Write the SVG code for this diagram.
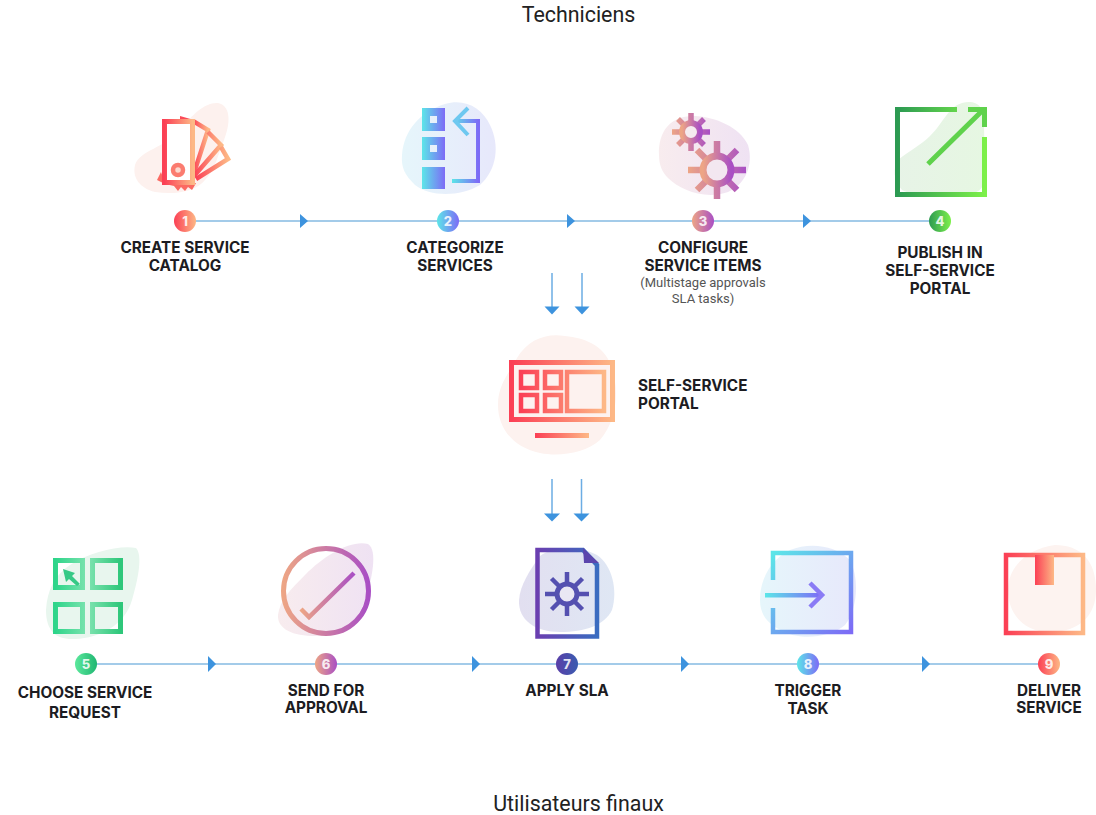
<svg xmlns="http://www.w3.org/2000/svg" width="1096" height="815" viewBox="0 0 1096 815">
<style>
.t{font-family:"Inter","Liberation Sans",sans-serif;font-weight:700;font-size:15.300px;fill:#1c1c22;text-anchor:middle}
.s{font-family:"Roboto","Liberation Sans",sans-serif;font-size:13px;fill:#555;text-anchor:middle}
.h{font-family:"Roboto","Liberation Sans",sans-serif;font-size:21.400px;fill:#222;text-anchor:middle}
.n{font-family:"Inter","Liberation Sans",sans-serif;font-weight:800;font-size:13px;fill:#fff;fill-opacity:.85;text-anchor:middle}
.l{stroke:#a3cbe9;stroke-width:2;fill:none}
.d{stroke:#6cade4;stroke-width:1.500;fill:none}
.a{fill:#3d93de}
</style>
<defs>
<linearGradient id="gR"><stop offset="0" stop-color="#fb4055"/><stop offset="1" stop-color="#fdb886"/></linearGradient>
<linearGradient id="gB"><stop offset="0" stop-color="#5ce6e8"/><stop offset="1" stop-color="#7d6bf6"/></linearGradient>
<linearGradient id="gB2" x2="1" y2="1"><stop offset="0" stop-color="#5ce6e8"/><stop offset="1" stop-color="#7d6bf6"/></linearGradient>
<linearGradient id="gP"><stop offset="0" stop-color="#eda585"/><stop offset="1" stop-color="#a94fc4"/></linearGradient>
<linearGradient id="gG"><stop offset="0" stop-color="#2c9a52"/><stop offset="1" stop-color="#7df04a"/></linearGradient>
<linearGradient id="gM"><stop offset="0" stop-color="#2ed58a"/><stop offset=".5" stop-color="#7ee3b0"/><stop offset="1" stop-color="#2ec77a"/></linearGradient>
<linearGradient id="gI"><stop offset="0" stop-color="#6a3fb0"/><stop offset="1" stop-color="#3a6cc0"/></linearGradient>
<linearGradient id="gN5"><stop offset="0" stop-color="#5ce89c"/><stop offset="1" stop-color="#1fb672"/></linearGradient>
<linearGradient id="gN7"><stop offset="0" stop-color="#5a3fa8"/><stop offset="1" stop-color="#3a5cb0"/></linearGradient>
<linearGradient id="bB"><stop offset="0" stop-color="#e6f6fb"/><stop offset="1" stop-color="#e7e8fb"/></linearGradient>
<linearGradient id="bP"><stop offset="0" stop-color="#f8ecee"/><stop offset="1" stop-color="#efe2f3"/></linearGradient>
<linearGradient id="bG"><stop offset="0" stop-color="#e7f3e7"/><stop offset="1" stop-color="#e6f7e2"/></linearGradient>
<linearGradient id="bI"><stop offset="0" stop-color="#e2dff0"/><stop offset="1" stop-color="#dfe7f4"/></linearGradient>
</defs>
<rect width="1096" height="815" fill="#fff"/>
<text class="h" x="578.500" y="22">Techniciens</text>
<text class="h" x="578.500" y="811">Utilisateurs finaux</text>

<g id="connectors">
<path class="l" d="M185 221H940M86 664H1049"/>
<path class="a" d="M300 214l8 7-8 7zM567 214l8 7-8 7zM803 214l8 7-8 7zM208 656l8 8-8 8zM472 656l8 8-8 8zM681 656l8 8-8 8zM922 656l8 8-8 8z"/>
<path class="d" d="M552 273V307M582 273V307M552 479V514M581.500 479V514"/>
<path class="a" d="M544.500 306.500h15l-7.500 8zM574.500 306.500h15l-7.500 8zM544 513.500h16l-8 8zM573.500 513.500h16l-8 8z"/>
</g>

<g id="node-1">
<path fill="#fdf1ee" d="M135 165C140 150 165 148 180 130C192 115 205 102 218 103C232 106 230 125 224 140C218 155 215 170 205 180C195 192 175 195 155 192C140 188 132 178 135 165Z"/>
<path fill="#fb4a58" d="M180 116L194 120L180 121Z"/>
<path fill="none" stroke="url(#gR)" stroke-width="4.500" d="M193 121L208 130L194 173"/>
<path fill="none" stroke="url(#gR)" stroke-width="4.500" d="M208 132L221 145L194 176"/>
<path fill="none" stroke="url(#gR)" stroke-width="4.500" d="M221 147L228 159L196 179"/>
<path fill="#fb6a62" d="M161 172L157 180L165 184L174 186L178 191L181 187L185 191L188 187L192 190L195 185L196 183H165Z"/>
<rect x="164.500" y="121.500" width="28" height="61" fill="#fff" stroke="url(#gR)" stroke-width="5"/>
<circle cx="178" cy="170" r="5" fill="#fdd9cf" stroke="#fb7c70" stroke-width="4.500"/>
<circle cx="185" cy="221" r="11" fill="url(#gR)"/>
<text class="n" x="185" y="226">1</text>
<text class="t" x="185" y="253">CREATE SERVICE</text>
<text class="t" x="185" y="271">CATALOG</text>
</g>

<g id="node-2">
<path fill="url(#bB)" d="M402 155C404 130 420 112 445 104C465 98 482 108 490 125C500 145 497 170 480 185C460 197 430 197 415 185C405 175 401 168 402 155Z"/>
<path fill="url(#gB)" fill-rule="evenodd" d="M422 108h23v23h-23zM430 116v7h7v-7zM422 137h23v23h-23zM430 145v7h7v-7zM422 167h23v22h-23z"/>
<path fill="none" stroke="url(#gB)" stroke-width="4" d="M456 121H478V181H452"/>
<path fill="none" stroke="#6ec8f0" stroke-width="4" d="M468 108L455 121L468 135"/>
<circle cx="448" cy="221" r="11" fill="url(#gB)"/>
<text class="n" x="448" y="226">2</text>
<text class="t" x="455" y="253">CATEGORIZE</text>
<text class="t" x="455" y="271">SERVICES</text>
</g>

<g id="node-3">
<path fill="url(#bP)" d="M659 155C658 130 672 115 695 116C715 117 740 127 748 145C754 165 745 185 728 192C705 200 680 190 668 178C662 172 659 165 659 155Z"/>
<path fill="none" stroke="url(#gP)" stroke-width="5.500" d="M672 132H710M691 113V151M678 119L704 145M704 119L678 145"/>
<circle cx="691" cy="132" r="9" fill="#f5ebef" stroke="url(#gP)" stroke-width="6"/>
<path fill="none" stroke="url(#gP)" stroke-width="6.500" d="M688 170H746M717 141V199M697 150L737 190M737 150L697 190"/>
<circle cx="717" cy="170" r="14" fill="#f3e7f0" stroke="url(#gP)" stroke-width="7"/>
<circle cx="703" cy="221" r="11" fill="url(#gP)"/>
<text class="n" x="703" y="226">3</text>
<text class="t" x="703" y="253">CONFIGURE</text>
<text class="t" x="703" y="271">SERVICE ITEMS</text>
<text class="s" x="703" y="287">(Multistage approvals</text>
<text class="s" x="703" y="303">SLA tasks)</text>
</g>

<g id="node-4">
<path fill="url(#bG)" d="M898 160C910 150 920 146 930 136C942 125 948 107 962 103C975 100 985 104 984 125L985 180C982 192 975 195 960 193C935 195 915 197 902 190C893 180 893 168 898 160Z"/>
<path fill="none" stroke="url(#gG)" stroke-width="5" d="M957 109.500H897.500V194.500H984.500V137"/>
<path fill="none" stroke="#5fd24c" stroke-width="5" d="M928 164L983 110M968 109.500H984.500V127"/>
<circle cx="940" cy="221" r="11" fill="url(#gG)"/>
<text class="n" x="940" y="226">4</text>
<text class="t" x="940" y="258">PUBLISH IN</text>
<text class="t" x="940" y="276">SELF-SERVICE</text>
<text class="t" x="940" y="294">PORTAL</text>
</g>

<g id="portal">
<path fill="#fdf2ef" d="M498 405C498 385 508 375 517 358C528 340 545 333 565 336C585 338 603 345 611 365C620 390 617 420 600 440C585 453 560 457 540 453C515 448 498 430 498 405Z"/>
<rect x="511.500" y="362.500" width="101" height="57" fill="none" stroke="url(#gR)" stroke-width="5"/>
<path fill="none" stroke="url(#gR)" stroke-width="4.500" d="M521 372h16v16h-16zM545 372h16v16h-16zM521 395h16v16h-16zM545 395h16v16h-16zM567 372h37v39h-37z"/>
<rect x="535" y="433" width="54" height="5" fill="url(#gR)"/>
<text class="t" style="text-anchor:start" x="638" y="391">SELF-SERVICE</text>
<text class="t" style="text-anchor:start" x="638" y="409">PORTAL</text>
</g>

<g id="node-5">
<path fill="#e8f6ee" d="M46 610C47 590 55 575 70 565C90 552 120 545 136 548C143 555 138 580 132 600C125 625 100 638 75 639C55 640 46 630 46 610Z"/>
<path fill="none" stroke="url(#gM)" stroke-width="5" d="M55.500 560.500h27v27h-27zM92.500 560.500h28v27h-28zM55.500 604.500h27v27h-27zM92.500 604.500h28v27h-28z"/>
<path fill="#36c986" d="M63 569L75 573L72 576L80 584L77 586L69 579L66 582Z"/>
<circle cx="86" cy="664" r="11" fill="url(#gN5)"/>
<text class="n" x="86" y="669">5</text>
<text class="t" x="85" y="698">CHOOSE SERVICE</text>
<text class="t" x="85" y="718">REQUEST</text>
</g>

<g id="node-6">
<path fill="url(#bP)" d="M278 615C280 600 290 590 305 575C325 555 350 540 368 544C378 550 372 580 365 600C358 620 345 635 320 636C295 637 277 630 278 615Z"/>
<circle cx="326" cy="591" r="42.500" fill="none" stroke="url(#gP)" stroke-width="5"/>
<path fill="none" stroke="url(#gP)" stroke-width="4.500" d="M301 609L309 617L354 573"/>
<circle cx="326" cy="664" r="11" fill="url(#gP)"/>
<text class="n" x="326" y="669">6</text>
<text class="t" x="326" y="696">SEND FOR</text>
<text class="t" x="326" y="713">APPROVAL</text>
</g>

<g id="node-7">
<path fill="url(#bI)" d="M519 600C520 585 530 570 540 556C555 545 580 546 597 555C612 565 618 590 612 610C605 625 585 632 560 632C535 632 518 620 519 600Z"/>
<path fill="none" stroke="url(#gI)" stroke-width="4.500" d="M537.500 550H583L597 565V636.500H537.500Z"/>
<path fill="#5b45ad" d="M583 548L599 563H584Z"/>
<path fill="none" stroke="#5450b0" stroke-width="4.500" d="M545 594H589M567 572V616M551.500 578.500L582.500 609.500M582.500 578.500L551.500 609.500"/>
<circle cx="567" cy="594" r="10" fill="#e9e7f3" stroke="#5450b0" stroke-width="5"/>
<circle cx="567" cy="664" r="11" fill="url(#gN7)"/>
<text class="n" x="567" y="669">7</text>
<text class="t" x="567" y="696">APPLY SLA</text>
</g>

<g id="node-8">
<path fill="url(#bB)" d="M760 600C760 580 770 560 790 550C810 542 835 545 850 560C860 580 857 610 845 625C830 638 800 640 785 632C768 625 760 615 760 600Z"/>
<path fill="none" stroke="url(#gB2)" stroke-width="4.500" d="M773 580V553H851V632H773V608"/>
<rect x="765" y="593" width="56" height="4.500" fill="url(#gB)"/>
<path fill="none" stroke="#8a7bf5" stroke-width="4.500" d="M810 583L822 595L810 607"/>
<circle cx="808" cy="664" r="11" fill="url(#gB)"/>
<text class="n" x="808" y="669">8</text>
<text class="t" x="808" y="696">TRIGGER</text>
<text class="t" x="808" y="714">TASK</text>
</g>

<g id="node-9">
<path fill="#fdf3f0" d="M1008 590C1008 565 1030 548 1055 545C1080 545 1096 560 1096 590C1096 615 1080 632 1050 632C1025 632 1008 615 1008 590Z"/>
<rect x="1006" y="555" width="77" height="78" fill="none" stroke="url(#gR)" stroke-width="4.500"/>
<rect x="1035" y="555" width="19" height="30" fill="url(#gR)"/>
<circle cx="1049" cy="664" r="11" fill="url(#gR)"/>
<text class="n" x="1049" y="669">9</text>
<text class="t" x="1049" y="696">DELIVER</text>
<text class="t" x="1049" y="713">SERVICE</text>
</g>
</svg>
